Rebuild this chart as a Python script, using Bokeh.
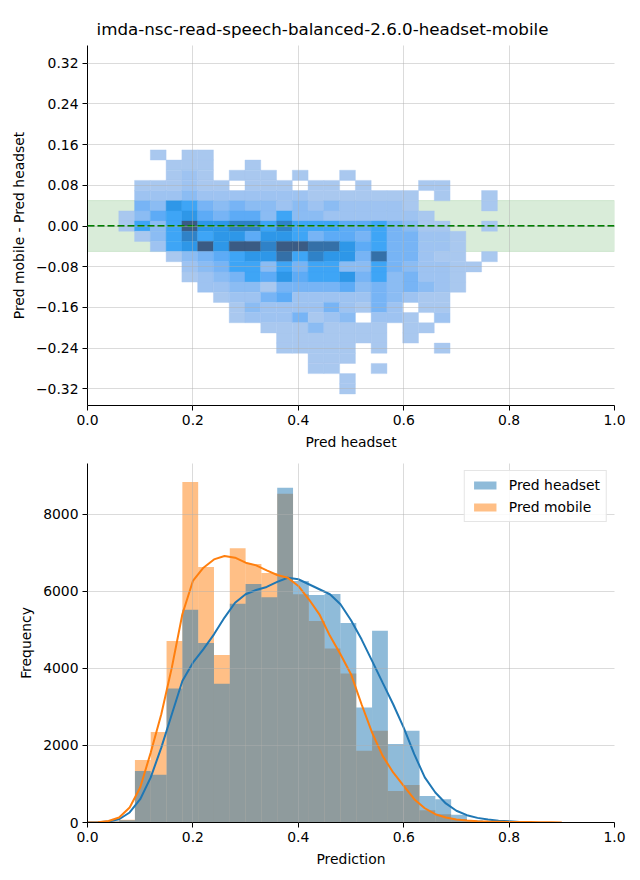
from bokeh.plotting import figure
from bokeh.layouts import column
from bokeh.models import (FixedTicker, CustomJSTickFormatter, BoxAnnotation, Span,
                          Legend, LegendItem, Range1d, ColumnDataSource, LinearColorMapper)
from bokeh.embed import file_html
from bokeh.resources import INLINE

TITLE = "imda-nsc-read-speech-balanced-2.6.0-headset-mobile"
FONT = "DejaVu Sans"

# ---------------- top: 2D histogram (counts level per cell, rows top -> bottom)
hx_start, hx_width, hx_n = 0.0594, 0.02993, 24
hy_top, hy_height, hy_n = 0.1497, 0.02, 24
counts = [
    [0,0,1,0,1,1,0,0,0,0,0,0,0,0,0,0,0,0,0,0,0,0,0,0],
    [0,0,0,1,1,1,0,0,1,0,0,0,0,0,0,0,0,0,0,0,0,0,0,0],
    [0,0,0,1,2,1,0,1,1,1,0,1,0,0,1,0,0,0,0,0,0,0,0,0],
    [0,1,1,1,2,1,1,0,1,1,1,0,1,1,0,1,0,0,0,1,1,0,0,0],
    [0,2,2,2,3,2,2,2,2,2,2,2,1,1,1,1,1,1,1,0,1,0,0,1],
    [0,4,3,7,6,4,3,4,3,3,2,3,2,3,2,2,2,2,1,0,0,0,0,1],
    [1,3,5,6,7,5,4,5,5,3,6,3,3,2,2,2,2,2,2,1,0,0,0,0],
    [1,6,3,6,10,7,7,8,8,6,8,6,6,6,5,5,6,4,3,1,1,0,0,1],
    [0,1,3,6,8,6,7,7,5,7,7,6,4,5,5,4,6,4,4,2,2,1,0,0],
    [0,0,2,6,7,10,7,10,10,8,10,10,9,9,7,5,6,4,4,2,2,1,0,0],
    [0,0,0,1,3,4,5,6,7,7,9,6,8,7,7,4,9,4,4,2,1,1,0,1],
    [0,0,0,0,2,3,4,6,6,3,6,4,6,6,3,3,6,4,3,2,2,1,1,0],
    [0,0,0,0,1,2,3,4,6,5,7,5,6,6,7,4,6,3,4,2,2,1,0,0],
    [0,0,0,0,0,2,2,3,3,1,4,4,4,4,5,3,4,3,4,3,2,1,0,0],
    [0,0,0,0,0,0,1,2,2,4,5,2,2,2,2,2,4,3,2,1,1,0,0,0],
    [0,0,0,0,0,0,0,1,3,2,2,2,2,4,2,1,4,2,0,1,1,0,0,0],
    [0,0,0,0,0,0,0,1,2,2,2,4,1,2,3,0,2,2,1,0,2,0,0,0],
    [0,0,0,0,0,0,0,0,0,1,1,1,3,1,1,1,1,0,1,1,0,0,0,0],
    [0,0,0,0,0,0,0,0,0,0,1,1,1,1,1,1,1,0,1,0,0,0,0,0],
    [0,0,0,0,0,0,0,0,0,0,1,1,1,1,1,0,1,0,0,0,1,0,0,0],
    [0,0,0,0,0,0,0,0,0,0,0,0,1,1,1,0,0,0,0,0,0,0,0,0],
    [0,0,0,0,0,0,0,0,0,0,0,0,1,1,0,0,1,0,0,0,0,0,0,0],
    [0,0,0,0,0,0,0,0,0,0,0,0,0,0,1,0,0,0,0,0,0,0,0,0],
    [0,0,0,0,0,0,0,0,0,0,0,0,0,0,1,0,0,0,0,0,0,0,0,0],
]
top_yticks = [-0.32, -0.24, -0.16, -0.08, 0.0, 0.08, 0.16, 0.24, 0.32]
xticks = [0.0, 0.2, 0.4, 0.6, 0.8, 1.0]

# ---------------- bottom: histograms + kde
bin_edges = [round(0.03 * i, 2) for i in range(31)]
headset_counts = [20, 25, 60, 1340, 1240, 3480, 5520, 4660, 3600, 5680, 6190, 5850, 8690, 6270,
                  5905, 5930, 5180, 2985, 4975, 2035, 2380, 690, 605, 200, 60, 40, 20, 10, 0, 0]
mobile_counts = [15, 30, 70, 1620, 2350, 4710, 8840, 6630, 4350, 7120, 6710, 6480, 8535, 5925,
                 5230, 4515, 3870, 1860, 2380, 820, 975, 320, 215, 90, 40, 30, 20, 15, 10, 5]
kde_head_x = [0.00, 0.02, 0.04, 0.06, 0.08, 0.10, 0.12, 0.14, 0.16, 0.18, 0.20, 0.22, 0.24, 0.26,
              0.28, 0.30, 0.32, 0.34, 0.36, 0.38, 0.40, 0.42, 0.44, 0.46, 0.48, 0.50, 0.52, 0.54,
              0.56, 0.58, 0.60, 0.62, 0.64, 0.66, 0.68, 0.70, 0.72, 0.74, 0.76, 0.78, 0.80, 0.82, 0.84]
kde_head_y = [0, 5, 25, 85, 260, 605, 1170, 1945, 2810, 3675, 4150, 4500, 4885, 5320,
              5705, 5925, 6035, 6115, 6245, 6355, 6315, 6185, 6055, 5925, 5665, 5250, 4755, 4195,
              3630, 3070, 2465, 1775, 1170, 780, 495, 305, 190, 120, 75, 45, 30, 15, 5]
kde_mob_x = [0.00, 0.02, 0.04, 0.06, 0.08, 0.10, 0.12, 0.14, 0.16, 0.18, 0.20, 0.22, 0.24, 0.26,
             0.28, 0.30, 0.32, 0.34, 0.36, 0.38, 0.40, 0.42, 0.44, 0.46, 0.48, 0.50, 0.52, 0.54,
             0.56, 0.58, 0.60, 0.62, 0.64, 0.66, 0.68, 0.70, 0.72, 0.74, 0.76, 0.78, 0.80, 0.82,
             0.84, 0.86, 0.88, 0.90]
kde_mob_y = [0, 5, 40, 130, 390, 910, 1815, 2810, 4020, 5405, 6270, 6615, 6830, 6920,
             6875, 6745, 6675, 6545, 6425, 6355, 6140, 5795, 5405, 4845, 4370, 3850, 3070, 2335,
             1730, 1300, 950, 605, 370, 215, 130, 80, 55, 35, 25, 20, 15, 12, 10, 8, 5, 0]
bottom_yticks = [0, 2000, 4000, 6000, 8000]

palette = ["#a9c8ef", "#9ec3f1", "#8bbcf3", "#77b4f5", "#5dabf6",
           "#3ea5f6", "#2e97e8", "#2f82c8", "#3470a8", "#3a5b84"]


def style(p):
    p.outline_line_color = None
    for ax in (p.xaxis, p.yaxis):
        ax.axis_line_color = "black"
        ax.axis_line_width = 1
        ax.major_tick_line_color = "black"
        ax.major_tick_in = 0
        ax.major_tick_out = 5
        ax.minor_tick_line_color = None
        ax.major_label_text_font = FONT
        ax.major_label_text_font_size = "13.9px"
        ax.major_label_text_color = "black"
        ax.major_label_standoff = 4
        ax.axis_label_text_font = FONT
        ax.axis_label_text_font_size = "13.9px"
        ax.axis_label_text_font_style = "normal"
        ax.axis_label_text_color = "black"
        ax.axis_label_standoff = 6
    for g in (p.xgrid, p.ygrid):
        g.grid_line_color = "#b0b0b0"
        g.grid_line_alpha = 0.45
        g.grid_line_width = 1
        g.level = "overlay"


# ---- top figure
x_edges = [hx_start + hx_width * i for i in range(hx_n + 1)]
y_edges = [hy_top - hy_height * j for j in range(hy_n + 1)]
cells = dict(left=[], right=[], top=[], bottom=[], count=[])
for j, row in enumerate(counts):
    for i, c in enumerate(row):
        if c > 0:
            cells["left"].append(x_edges[i])
            cells["right"].append(x_edges[i + 1])
            cells["top"].append(y_edges[j])
            cells["bottom"].append(y_edges[j + 1])
            cells["count"].append(c)

p1 = figure(width=640, height=452, x_range=Range1d(0, 1), y_range=Range1d(-0.353, 0.355),
            output_backend="svg", toolbar_location=None, title=TITLE,
            min_border_left=87, min_border_right=26, min_border_top=45, min_border_bottom=46)
p1.title.text_font = FONT
p1.title.text_font_size = "16.7px"
p1.title.text_font_style = "normal"
p1.title.text_color = "black"
p1.title.align = "left"
p1.title.offset = 9
p1.title.standoff = 14

band = BoxAnnotation(bottom=-0.05, top=0.05, fill_color="green", fill_alpha=0.15,
                     line_color="green", line_alpha=0.12, level="underlay")
p1.add_layout(band)

mapper = LinearColorMapper(palette=palette, low=0.5, high=10.5)
src = ColumnDataSource(cells)
p1.quad(left="left", right="right", top="top", bottom="bottom", source=src,
        fill_color={"field": "count", "transform": mapper},
        line_color={"field": "count", "transform": mapper}, line_width=0.4)
p1.add_layout(Span(location=0, dimension="width", line_color="green",
                   line_dash="7 3", line_width=2))

p1.xaxis.ticker = FixedTicker(ticks=xticks)
p1.xaxis.formatter = CustomJSTickFormatter(code="return tick.toFixed(1);")
p1.yaxis.ticker = FixedTicker(ticks=top_yticks)
p1.yaxis.formatter = CustomJSTickFormatter(code="return tick.toFixed(2).replace('-', '\u2212');")
p1.xaxis.axis_label = "Pred headset"
p1.yaxis.axis_label = "Pred mobile - Pred headset"
style(p1)

# ---- bottom figure
p2 = figure(width=640, height=428, x_range=Range1d(0, 1), y_range=Range1d(0, 9320),
            output_backend="svg", toolbar_location=None,
            min_border_left=87, min_border_right=26, min_border_top=11, min_border_bottom=58)
r_mob = p2.quad(left=bin_edges[:-1], right=bin_edges[1:], bottom=0, top=mobile_counts,
                fill_color="#ff7f0e", fill_alpha=0.5, line_color=None)
r_head = p2.quad(left=bin_edges[:-1], right=bin_edges[1:], bottom=0, top=headset_counts,
                 fill_color="#1f77b4", fill_alpha=0.5, line_color=None)
p2.line(kde_head_x, kde_head_y, line_color="#1f77b4", line_width=2)
p2.line(kde_mob_x, kde_mob_y, line_color="#ff7f0e", line_width=2)

p2.xaxis.ticker = FixedTicker(ticks=xticks)
p2.xaxis.formatter = CustomJSTickFormatter(code="return tick.toFixed(1);")
p2.yaxis.ticker = FixedTicker(ticks=bottom_yticks)
p2.xaxis.axis_label = "Prediction"
p2.yaxis.axis_label = "Frequency"
style(p2)

legend = Legend(items=[LegendItem(label="Pred headset", renderers=[r_head]),
                       LegendItem(label="Pred mobile", renderers=[r_mob])],
                location="top_right")
legend.label_text_font = FONT
legend.label_text_font_size = "13.9px"
legend.label_text_color = "black"
legend.glyph_width = 28
legend.glyph_height = 10
legend.label_standoff = 10
legend.label_height = 14
legend.padding = 6
legend.spacing = 6
legend.margin = 7
legend.border_line_color = "#cccccc"
legend.background_fill_alpha = 0.85
p2.add_layout(legend)

layout = column(p1, p2)
open("out.html", "w").write(file_html(layout, INLINE))
